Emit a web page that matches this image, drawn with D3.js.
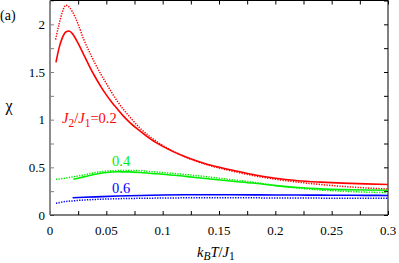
<!DOCTYPE html>
<html><head><meta charset="utf-8">
<script src="https://cdn.jsdelivr.net/npm/d3@7"></script>
<style>body{margin:0;background:#fff}svg{display:block}</style>
</head><body><svg id="c" width="399" height="263"></svg>
<script>
const xTicks = [0, 0.05, 0.1, 0.15, 0.2, 0.25, 0.3];
const xTickLabels = ["0", "0.05", "0.1", "0.15", "0.2", "0.25", "0.3"];
const yTicks = [0, 0.5, 1, 1.5, 2];
const yTickLabels = ["0", "0.5", "1", "1.5", "2"];

const redSolid = [[0.0053,1.60],[0.008,1.75],[0.011,1.86],[0.014,1.92],[0.017,1.93],[0.02,1.90],[0.025,1.80],[0.03,1.68],[0.035,1.56],[0.04,1.45],[0.045,1.35],[0.05,1.26],[0.055,1.18],[0.06,1.11],[0.065,1.04],[0.07,0.98],[0.08,0.88],[0.09,0.79],[0.1,0.72],[0.12,0.61],[0.14,0.53],[0.16,0.475],[0.18,0.425],[0.2,0.385],[0.22,0.36],[0.24,0.345],[0.26,0.334],[0.28,0.326],[0.3,0.32]];
const redDotted = [[0.005,1.84],[0.008,2.0],[0.011,2.13],[0.014,2.20],[0.017,2.18],[0.02,2.13],[0.025,2.0],[0.03,1.84],[0.035,1.71],[0.04,1.59],[0.045,1.48],[0.05,1.38],[0.055,1.28],[0.06,1.19],[0.065,1.11],[0.07,1.04],[0.08,0.91],[0.09,0.81],[0.1,0.73],[0.12,0.61],[0.14,0.525],[0.16,0.465],[0.18,0.415],[0.2,0.375],[0.22,0.345],[0.24,0.32],[0.26,0.3],[0.28,0.284],[0.3,0.272]];
const greenSolid = [[0.0207,0.374],[0.03,0.40],[0.04,0.428],[0.05,0.445],[0.06,0.453],[0.07,0.452],[0.08,0.446],[0.09,0.436],[0.1,0.428],[0.12,0.405],[0.14,0.38],[0.16,0.356],[0.18,0.335],[0.2,0.308],[0.22,0.288],[0.24,0.274],[0.26,0.266],[0.28,0.262],[0.3,0.26]];
const greenDotted = [[0.0053,0.374],[0.01,0.38],[0.02,0.40],[0.03,0.42],[0.04,0.445],[0.05,0.46],[0.06,0.466],[0.07,0.468],[0.08,0.465],[0.09,0.455],[0.1,0.445],[0.12,0.425],[0.14,0.40],[0.16,0.372],[0.18,0.345],[0.2,0.31],[0.22,0.282],[0.24,0.262],[0.26,0.25],[0.28,0.24],[0.3,0.234]];
const blueSolid = [[0.0201,0.181],[0.04,0.19],[0.06,0.199],[0.08,0.205],[0.1,0.209],[0.12,0.212],[0.14,0.213],[0.16,0.212],[0.18,0.211],[0.2,0.21],[0.22,0.209],[0.24,0.208],[0.26,0.207],[0.28,0.206],[0.3,0.205]];
const blueDotted = [[0.0053,0.122],[0.01,0.135],[0.02,0.148],[0.03,0.157],[0.04,0.163],[0.06,0.171],[0.08,0.175],[0.1,0.178],[0.12,0.18],[0.14,0.181],[0.16,0.181],[0.18,0.18],[0.2,0.179],[0.22,0.178],[0.24,0.177],[0.26,0.176],[0.28,0.175],[0.3,0.175]];

const FONT = "Liberation Serif";
const svg = d3.select("#c");
const L = 50, R = 388, T = 0.5, B = 215;
const x = d3.scaleLinear().domain([0, 0.3]).range([L, R]);
const y = d3.scaleLinear().domain([0, 2.25]).range([B, T]);

const minorX = d3.range(0, 0.3001, 0.025);
const minorY = d3.range(0, 2.2501, 0.25);

function styleAxis(g, color) {
  g.select(".domain").remove();
  g.selectAll("line").attr("stroke", color).attr("stroke-width", 1);
  g.selectAll("text").remove();
}
svg.append("g").attr("transform", `translate(0,${B})`)
  .call(d3.axisBottom(x).tickValues(minorX).tickSize(-4)).call(g => styleAxis(g, "#000"));
svg.append("g").attr("transform", `translate(0,${T})`)
  .call(d3.axisTop(x).tickValues(minorX).tickSize(-4)).call(g => styleAxis(g, "#000"));
svg.append("g").attr("transform", `translate(${L},0)`)
  .call(d3.axisLeft(y).tickValues(minorY).tickSize(-4)).call(g => styleAxis(g, "#808080"));
svg.append("g").attr("transform", `translate(${R},0)`)
  .call(d3.axisRight(y).tickValues(minorY).tickSize(-4)).call(g => styleAxis(g, "#000"));

svg.append("line").attr("x1", L).attr("x2", R).attr("y1", T).attr("y2", T).attr("stroke", "#000");
svg.append("line").attr("x1", R).attr("x2", R).attr("y1", T).attr("y2", B).attr("stroke", "#000");
svg.append("line").attr("x1", L).attr("x2", R).attr("y1", B).attr("y2", B).attr("stroke", "#000").attr("stroke-width", 1.2);
svg.append("line").attr("x1", L).attr("x2", L).attr("y1", T).attr("y2", B).attr("stroke", "#808080").attr("stroke-width", 1.8);

svg.append("g").selectAll("text").data(xTicks).join("text")
  .attr("font-family", FONT)
  .attr("x", d => x(d)).attr("y", 235).attr("text-anchor", "middle")
  .attr("font-size", 13).text((d, i) => xTickLabels[i]);
svg.append("g").selectAll("text").data(yTicks).join("text")
  .attr("font-family", FONT)
  .attr("x", 45).attr("y", d => y(d) + 4.5).attr("text-anchor", "end")
  .attr("font-size", 13).text((d, i) => yTickLabels[i]);

const line = d3.line().x(d => x(d[0])).y(d => y(d[1])).curve(d3.curveMonotoneX);
const series = [
  [redDotted, "#ff0000", true], [redSolid, "#ff0000", false],
  [greenDotted, "#00ee00", true], [greenSolid, "#00ee00", false],
  [blueDotted, "#0000ff", true], [blueSolid, "#0000ff", false]
];
series.forEach(([data, col, dotted]) => {
  svg.append("path").attr("d", line(data)).attr("fill", "none").attr("stroke", col)
    .attr("stroke-width", dotted ? 1.5 : 1.6)
    .attr("stroke-dasharray", dotted ? "1.3,1.3" : null);
});

const lab = svg.append("text").attr("font-family", FONT).attr("x", 62).attr("y", 123).attr("fill", "#ff0000").attr("font-size", 14.5);
lab.append("tspan").attr("font-style", "italic").text("J");
lab.append("tspan").attr("font-size", 11.5).attr("dy", 4).text("2");
lab.append("tspan").attr("dy", -4).text("/");
lab.append("tspan").attr("font-style", "italic").text("J");
lab.append("tspan").attr("font-size", 11.5).attr("dy", 4).text("1");
lab.append("tspan").attr("dy", -4).text("=0.2");

svg.append("text").attr("font-family", FONT).attr("x", 112).attr("y", 166).attr("fill", "#00ee00").attr("font-size", 14.5).text("0.4");
svg.append("text").attr("font-family", FONT).attr("x", 112).attr("y", 192.5).attr("fill", "#0000ff").attr("font-size", 14.5).text("0.6");

svg.append("text").attr("font-family", FONT).attr("x", 0).attr("y", 20).attr("font-size", 14).text("(a)");
svg.append("text").attr("font-family", FONT).attr("x", 9).attr("y", 111).attr("text-anchor", "middle").attr("font-size", 16).text("χ");

const xl = svg.append("text").attr("font-family", FONT).attr("x", 197).attr("y", 257).attr("font-size", 14.5);
xl.append("tspan").attr("font-style", "italic").text("k");
xl.append("tspan").attr("font-style", "italic").attr("font-size", 11.5).attr("dy", 3).text("B");
xl.append("tspan").attr("font-style", "italic").attr("dy", -3).text("T");
xl.append("tspan").text("/");
xl.append("tspan").attr("font-style", "italic").text("J");
xl.append("tspan").attr("font-size", 11.5).attr("dy", 3).text("1");
</script></body></html>
